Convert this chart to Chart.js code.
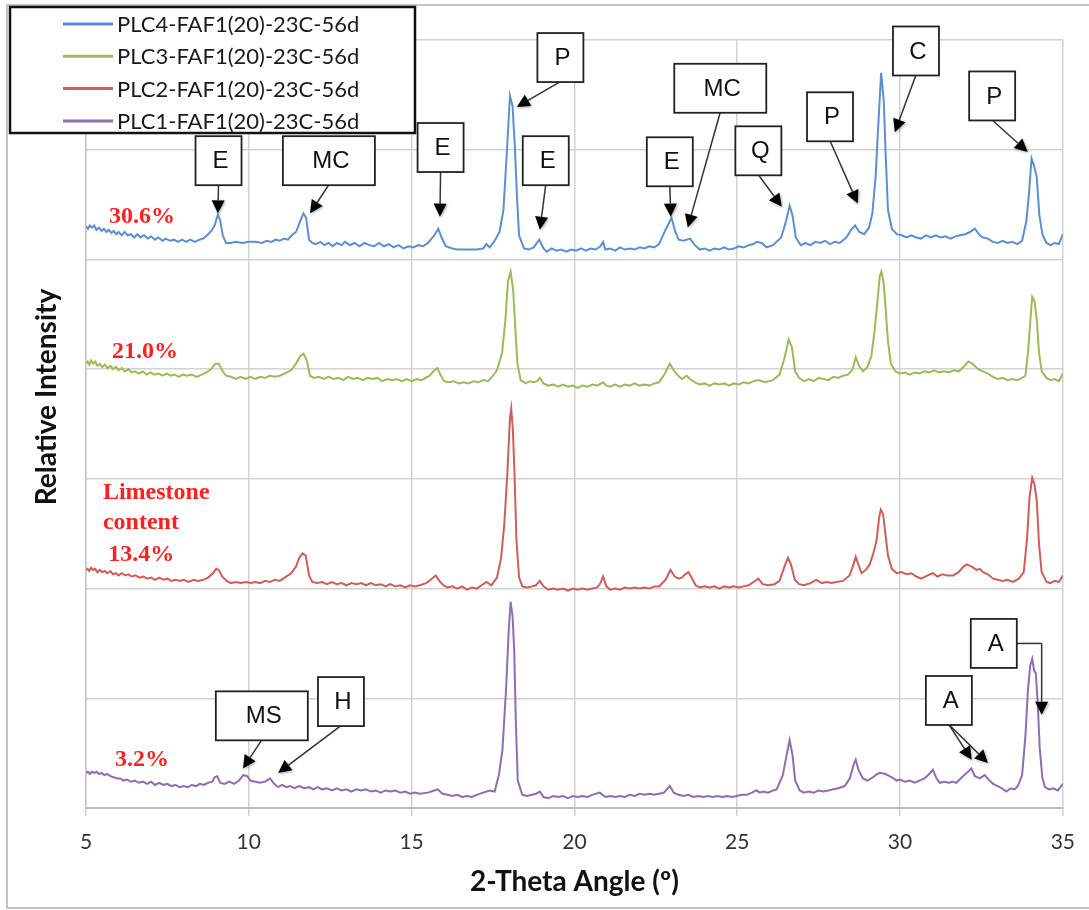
<!DOCTYPE html>
<html>
<head>
<meta charset="utf-8">
<script src="https://cdn.jsdelivr.net/npm/chart.js@4/dist/chart.umd.min.js"></script>
<style>
  html, body { margin: 0; padding: 0; background: #fff; }
</style>
</head>
<body>
<canvas id="xrd" width="1089" height="910"></canvas>
<script>
// x ticks (2-theta, degrees)
const xTicks = [5, 10, 15, 20, 25, 30, 35];

const seriesNames = [
  "PLC4-FAF1(20)-23C-56d",
  "PLC3-FAF1(20)-23C-56d",
  "PLC2-FAF1(20)-23C-56d",
  "PLC1-FAF1(20)-23C-56d",
];

// [2theta, stacked relative intensity]
const plc4 = [
  [5.00,5.30],[5.06,5.28],[5.12,5.31],[5.18,5.29],[5.25,5.31],[5.32,5.27],[5.40,5.29],[5.48,5.26],
  [5.55,5.28],[5.63,5.25],[5.70,5.27],[5.78,5.24],[5.85,5.26],[5.93,5.23],[6.00,5.25],[6.10,5.22],
  [6.18,5.25],[6.28,5.22],[6.38,5.23],[6.48,5.20],[6.58,5.23],[6.68,5.20],[6.78,5.22],[6.90,5.19],
  [7.00,5.21],[7.12,5.18],[7.22,5.20],[7.35,5.17],[7.45,5.19],[7.58,5.17],[7.70,5.18],[7.82,5.16],
  [7.95,5.18],[8.08,5.16],[8.20,5.18],[8.35,5.16],[8.48,5.18],[8.60,5.19],[8.72,5.22],[8.85,5.26],
  [8.95,5.31],[9.05,5.41],[9.12,5.36],[9.20,5.22],[9.30,5.15],[9.45,5.15],[9.60,5.16],[9.80,5.15],
  [10.00,5.16],[10.20,5.16],[10.40,5.15],[10.55,5.17],[10.70,5.16],[10.82,5.18],[10.95,5.17],[11.08,5.19],
  [11.20,5.18],[11.32,5.22],[11.45,5.25],[11.58,5.35],[11.68,5.42],[11.76,5.38],[11.85,5.18],[11.95,5.15],
  [12.05,5.14],[12.20,5.16],[12.32,5.13],[12.45,5.15],[12.58,5.12],[12.70,5.15],[12.85,5.13],[12.95,5.16],
  [13.10,5.13],[13.25,5.15],[13.40,5.12],[13.55,5.15],[13.70,5.13],[13.85,5.12],[14.00,5.15],[14.15,5.12],
  [14.30,5.14],[14.45,5.11],[14.60,5.13],[14.75,5.10],[14.90,5.12],[15.05,5.11],[15.20,5.13],[15.35,5.12],
  [15.50,5.15],[15.70,5.22],[15.82,5.28],[15.92,5.20],[16.05,5.12],[16.25,5.10],[16.40,5.09],[16.60,5.09],
  [16.80,5.09],[17.00,5.09],[17.20,5.10],[17.30,5.14],[17.40,5.11],[17.55,5.17],[17.70,5.25],[17.82,5.45],
  [17.92,5.95],[18.02,6.49],[18.10,6.40],[18.17,6.03],[18.24,5.55],[18.30,5.22],[18.45,5.10],[18.60,5.09],
  [18.75,5.11],[18.92,5.18],[19.05,5.10],[19.15,5.07],[19.30,5.10],[19.45,5.08],[19.60,5.09],[19.75,5.07],
  [19.90,5.09],[20.05,5.08],[20.20,5.10],[20.35,5.08],[20.50,5.10],[20.65,5.09],[20.80,5.12],[20.88,5.16],
  [20.95,5.09],[21.10,5.10],[21.25,5.08],[21.40,5.11],[21.55,5.09],[21.70,5.10],[21.85,5.09],[22.00,5.11],
  [22.15,5.10],[22.30,5.12],[22.45,5.11],[22.60,5.14],[22.75,5.24],[22.85,5.30],[22.98,5.38],[23.10,5.25],
  [23.20,5.18],[23.35,5.17],[23.55,5.19],[23.70,5.13],[23.85,5.09],[24.00,5.10],[24.15,5.08],[24.30,5.10],
  [24.45,5.09],[24.60,5.11],[24.75,5.09],[24.90,5.10],[25.05,5.12],[25.20,5.11],[25.35,5.13],[25.50,5.14],
  [25.60,5.16],[25.75,5.15],[25.90,5.11],[26.10,5.13],[26.35,5.20],[26.50,5.35],[26.61,5.49],[26.70,5.40],
  [26.80,5.20],[26.95,5.13],[27.10,5.15],[27.25,5.13],[27.40,5.16],[27.55,5.15],[27.70,5.17],[27.85,5.14],
  [28.00,5.16],[28.15,5.15],[28.35,5.20],[28.50,5.27],[28.62,5.31],[28.75,5.25],[28.90,5.23],[29.05,5.29],
  [29.15,5.42],[29.25,5.75],[29.33,6.21],[29.42,6.70],[29.50,6.45],[29.56,5.95],[29.63,5.45],[29.75,5.28],
  [29.90,5.23],[30.05,5.22],[30.20,5.20],[30.35,5.22],[30.50,5.20],[30.65,5.19],[30.80,5.22],[30.95,5.20],
  [31.10,5.22],[31.25,5.20],[31.40,5.21],[31.55,5.19],[31.70,5.21],[31.85,5.22],[32.00,5.23],[32.15,5.25],
  [32.30,5.28],[32.45,5.22],[32.55,5.20],[32.70,5.19],[32.85,5.16],[33.00,5.15],[33.15,5.17],[33.30,5.15],
  [33.45,5.16],[33.60,5.14],[33.75,5.17],[33.88,5.35],[33.96,5.60],[34.04,5.92],[34.12,5.85],[34.20,5.75],
  [34.28,5.40],[34.38,5.22],[34.50,5.15],[34.62,5.13],[34.75,5.15],[34.88,5.14],[35.00,5.23],
];

const plc3 = [
  [5.00,4.05],[5.05,4.07],[5.10,4.04],[5.16,4.08],[5.22,4.05],[5.28,4.07],[5.35,4.03],[5.42,4.05],
  [5.50,4.02],[5.58,4.04],[5.66,4.01],[5.75,4.03],[5.83,4.00],[5.92,4.02],[6.00,3.99],[6.10,4.01],
  [6.20,3.98],[6.30,4.00],[6.40,3.97],[6.50,3.98],[6.62,3.96],[6.74,3.98],[6.86,3.95],[6.98,3.97],
  [7.10,3.95],[7.22,3.96],[7.35,3.94],[7.48,3.96],[7.60,3.94],[7.72,3.95],[7.85,3.93],[7.98,3.95],
  [8.10,3.94],[8.25,3.95],[8.40,3.93],[8.55,3.95],[8.70,3.97],[8.85,4.00],[8.97,4.05],[9.08,4.05],
  [9.18,3.99],[9.30,3.94],[9.45,3.93],[9.60,3.91],[9.75,3.93],[9.90,3.91],[10.05,3.93],[10.20,3.91],
  [10.35,3.93],[10.50,3.92],[10.65,3.94],[10.80,3.93],[10.95,3.94],[11.10,3.96],[11.30,3.99],[11.45,4.05],
  [11.58,4.12],[11.68,4.14],[11.78,4.08],[11.88,3.94],[12.00,3.92],[12.15,3.93],[12.30,3.91],[12.45,3.93],
  [12.60,3.91],[12.75,3.92],[12.90,3.90],[13.05,3.93],[13.20,3.91],[13.35,3.92],[13.50,3.90],[13.65,3.92],
  [13.80,3.91],[13.95,3.92],[14.10,3.89],[14.25,3.91],[14.40,3.90],[14.55,3.91],[14.70,3.89],[14.85,3.91],
  [15.00,3.89],[15.15,3.91],[15.30,3.90],[15.55,3.94],[15.70,3.99],[15.79,4.01],[15.88,3.95],[16.00,3.89],
  [16.15,3.88],[16.30,3.89],[16.45,3.87],[16.60,3.88],[16.75,3.87],[16.90,3.89],[17.05,3.88],[17.20,3.90],
  [17.35,3.89],[17.50,3.94],[17.62,3.99],[17.78,4.15],[17.88,4.45],[17.96,4.80],[18.04,4.89],[18.12,4.72],
  [18.18,4.40],[18.25,4.05],[18.35,3.90],[18.50,3.87],[18.62,3.89],[18.75,3.88],[18.85,3.89],[18.94,3.92],
  [19.05,3.87],[19.20,3.85],[19.35,3.86],[19.50,3.84],[19.65,3.86],[19.80,3.84],[19.95,3.85],[20.10,3.83],
  [20.25,3.85],[20.40,3.84],[20.55,3.86],[20.70,3.85],[20.88,3.88],[20.98,3.85],[21.10,3.84],[21.25,3.86],
  [21.40,3.84],[21.55,3.86],[21.70,3.85],[21.85,3.87],[22.00,3.85],[22.15,3.86],[22.30,3.85],[22.45,3.87],
  [22.60,3.88],[22.78,3.96],[22.93,4.05],[23.05,3.99],[23.15,3.95],[23.30,3.91],[23.45,3.94],[23.55,3.91],
  [23.70,3.88],[23.85,3.86],[24.00,3.87],[24.15,3.85],[24.30,3.87],[24.45,3.86],[24.60,3.87],[24.75,3.85],
  [24.90,3.87],[25.05,3.86],[25.20,3.88],[25.35,3.87],[25.50,3.89],[25.65,3.90],[25.85,3.88],[26.10,3.90],
  [26.30,3.95],[26.45,4.10],[26.58,4.27],[26.68,4.20],[26.78,3.98],[26.90,3.92],[27.05,3.89],[27.20,3.91],
  [27.35,3.89],[27.50,3.92],[27.65,3.91],[27.80,3.90],[27.95,3.93],[28.10,3.92],[28.25,3.94],[28.40,3.95],
  [28.55,4.00],[28.64,4.11],[28.74,4.03],[28.86,3.98],[29.00,4.02],[29.12,4.12],[29.22,4.35],[29.30,4.60],
  [29.38,4.85],[29.43,4.89],[29.50,4.78],[29.56,4.55],[29.63,4.25],[29.72,4.05],[29.85,3.98],[30.00,3.96],
  [30.15,3.97],[30.30,3.95],[30.45,3.97],[30.60,3.96],[30.75,3.98],[30.90,3.97],[31.05,3.99],[31.20,3.97],
  [31.35,3.98],[31.50,3.97],[31.65,3.99],[31.80,3.98],[31.95,4.02],[32.10,4.07],[32.22,4.05],[32.40,4.00],
  [32.55,3.98],[32.70,3.96],[32.85,3.93],[33.00,3.91],[33.15,3.92],[33.30,3.90],[33.45,3.91],[33.60,3.90],
  [33.75,3.92],[33.85,3.94],[33.93,4.15],[33.99,4.39],[34.06,4.66],[34.13,4.62],[34.20,4.45],[34.27,4.15],
  [34.35,3.98],[34.50,3.92],[34.62,3.90],[34.75,3.91],[34.88,3.89],[35.00,3.96],
];

const plc2 = [
  [5.00,2.17],[5.05,2.18],[5.10,2.16],[5.16,2.19],[5.22,2.17],[5.28,2.18],[5.35,2.15],[5.42,2.17],
  [5.50,2.15],[5.58,2.16],[5.66,2.14],[5.75,2.16],[5.83,2.13],[5.92,2.14],[6.00,2.12],[6.10,2.14],
  [6.20,2.12],[6.30,2.13],[6.40,2.11],[6.52,2.12],[6.64,2.10],[6.76,2.11],[6.88,2.09],[7.00,2.10],
  [7.12,2.08],[7.25,2.10],[7.38,2.08],[7.50,2.09],[7.62,2.07],[7.75,2.08],[7.88,2.07],[8.00,2.08],
  [8.15,2.06],[8.30,2.08],[8.45,2.07],[8.60,2.08],[8.75,2.10],[8.90,2.14],[9.00,2.18],[9.08,2.17],
  [9.18,2.11],[9.32,2.07],[9.45,2.05],[9.60,2.06],[9.75,2.05],[9.90,2.06],[10.05,2.05],[10.20,2.06],
  [10.35,2.05],[10.50,2.07],[10.65,2.06],[10.80,2.08],[10.95,2.07],[11.10,2.10],[11.30,2.14],[11.45,2.20],
  [11.55,2.28],[11.65,2.32],[11.75,2.30],[11.85,2.12],[11.95,2.06],[12.10,2.05],[12.25,2.06],[12.40,2.04],
  [12.55,2.06],[12.70,2.04],[12.85,2.05],[13.00,2.03],[13.15,2.05],[13.30,2.04],[13.45,2.05],[13.60,2.03],
  [13.75,2.05],[13.90,2.03],[14.05,2.04],[14.20,2.02],[14.35,2.04],[14.50,2.02],[14.65,2.03],[14.80,2.01],
  [14.95,2.03],[15.10,2.02],[15.25,2.03],[15.45,2.05],[15.62,2.09],[15.74,2.12],[15.85,2.07],[15.98,2.03],
  [16.10,2.01],[16.25,2.02],[16.40,2.00],[16.55,2.02],[16.70,1.99],[16.85,2.01],[17.00,2.00],[17.15,2.03],
  [17.30,2.06],[17.45,2.03],[17.62,2.10],[17.75,2.28],[17.85,2.60],[17.94,3.05],[18.02,3.55],[18.06,3.64],
  [18.11,3.45],[18.16,3.05],[18.22,2.44],[18.30,2.10],[18.40,2.02],[18.55,2.01],[18.70,2.02],[18.82,2.03],
  [18.94,2.07],[19.05,2.02],[19.20,1.99],[19.35,2.00],[19.50,1.99],[19.65,2.00],[19.80,1.98],[19.95,2.00],
  [20.10,1.99],[20.25,2.00],[20.40,1.99],[20.55,2.00],[20.70,2.01],[20.80,2.05],[20.88,2.11],[20.98,2.02],
  [21.10,1.99],[21.25,2.00],[21.40,1.99],[21.55,2.01],[21.70,2.00],[21.85,2.01],[22.00,2.00],[22.15,2.01],
  [22.30,2.00],[22.45,2.02],[22.60,2.02],[22.80,2.08],[22.95,2.17],[23.08,2.11],[23.20,2.09],[23.30,2.10],
  [23.40,2.13],[23.50,2.15],[23.60,2.10],[23.72,2.03],[23.85,2.01],[24.00,2.02],[24.15,2.01],[24.30,2.02],
  [24.45,2.00],[24.60,2.02],[24.75,2.01],[24.90,2.02],[25.05,2.01],[25.20,2.02],[25.35,2.03],[25.50,2.06],
  [25.65,2.09],[25.78,2.04],[25.95,2.03],[26.15,2.04],[26.30,2.07],[26.45,2.20],[26.56,2.28],[26.65,2.22],
  [26.77,2.08],[26.90,2.04],[27.05,2.03],[27.25,2.05],[27.43,2.08],[27.60,2.05],[27.75,2.06],[27.90,2.05],
  [28.05,2.06],[28.25,2.07],[28.45,2.12],[28.55,2.20],[28.64,2.29],[28.72,2.22],[28.82,2.14],[28.95,2.17],
  [29.07,2.22],[29.18,2.32],[29.28,2.44],[29.36,2.65],[29.41,2.72],[29.48,2.68],[29.55,2.50],[29.63,2.30],
  [29.75,2.18],[29.90,2.14],[30.05,2.15],[30.20,2.13],[30.35,2.14],[30.50,2.11],[30.65,2.09],[30.85,2.12],
  [31.01,2.14],[31.15,2.11],[31.30,2.13],[31.45,2.12],[31.63,2.12],[31.80,2.15],[31.95,2.20],[32.05,2.22],
  [32.20,2.20],[32.35,2.17],[32.45,2.18],[32.55,2.15],[32.70,2.13],[32.86,2.09],[33.00,2.08],[33.15,2.07],
  [33.30,2.08],[33.47,2.06],[33.65,2.09],[33.80,2.15],[33.90,2.45],[33.98,2.84],[34.06,3.01],[34.13,2.95],
  [34.20,2.80],[34.27,2.40],[34.35,2.15],[34.50,2.06],[34.62,2.05],[34.75,2.07],[34.88,2.06],[35.00,2.12],
];

const plc1 = [
  [5.00,0.32],[5.06,0.33],[5.12,0.31],[5.18,0.33],[5.25,0.32],[5.32,0.33],[5.40,0.31],[5.48,0.32],
  [5.56,0.30],[5.65,0.31],[5.75,0.29],[5.85,0.28],[5.95,0.27],[6.05,0.27],[6.15,0.25],[6.25,0.26],
  [6.38,0.24],[6.50,0.25],[6.62,0.23],[6.75,0.24],[6.88,0.22],[7.00,0.24],[7.12,0.21],[7.25,0.23],
  [7.38,0.21],[7.50,0.22],[7.62,0.20],[7.75,0.21],[7.88,0.19],[8.00,0.20],[8.12,0.19],[8.25,0.21],
  [8.38,0.20],[8.50,0.22],[8.62,0.21],[8.75,0.23],[8.88,0.24],[8.95,0.28],[9.03,0.29],[9.12,0.23],
  [9.25,0.22],[9.40,0.24],[9.55,0.22],[9.70,0.25],[9.83,0.30],[9.95,0.29],[10.05,0.25],[10.20,0.24],
  [10.34,0.23],[10.50,0.24],[10.65,0.27],[10.78,0.22],[10.90,0.19],[11.02,0.21],[11.15,0.19],[11.28,0.20],
  [11.40,0.18],[11.55,0.20],[11.70,0.18],[11.85,0.19],[11.98,0.17],[12.12,0.19],[12.25,0.17],[12.40,0.18],
  [12.55,0.16],[12.70,0.18],[12.85,0.16],[13.00,0.17],[13.15,0.15],[13.30,0.17],[13.45,0.16],[13.60,0.17],
  [13.75,0.15],[13.90,0.16],[14.05,0.14],[14.20,0.16],[14.35,0.15],[14.50,0.16],[14.65,0.14],[14.80,0.15],
  [14.95,0.13],[15.10,0.14],[15.25,0.13],[15.50,0.14],[15.70,0.16],[15.80,0.17],[15.95,0.13],[16.10,0.12],
  [16.25,0.11],[16.40,0.12],[16.55,0.10],[16.70,0.11],[16.85,0.10],[17.00,0.12],[17.20,0.14],[17.40,0.16],
  [17.55,0.15],[17.68,0.30],[17.79,0.53],[17.90,1.08],[17.98,1.60],[18.04,1.88],[18.10,1.75],[18.15,1.45],
  [18.20,0.80],[18.26,0.25],[18.40,0.12],[18.55,0.11],[18.70,0.12],[18.82,0.13],[18.94,0.15],[19.05,0.10],
  [19.20,0.09],[19.35,0.11],[19.50,0.10],[19.65,0.11],[19.80,0.09],[19.95,0.11],[20.10,0.10],[20.25,0.11],
  [20.40,0.10],[20.55,0.12],[20.78,0.14],[20.95,0.10],[21.10,0.11],[21.25,0.10],[21.40,0.11],[21.55,0.10],
  [21.70,0.12],[21.85,0.11],[22.00,0.13],[22.15,0.12],[22.30,0.13],[22.45,0.12],[22.60,0.13],[22.75,0.14],
  [22.93,0.20],[23.05,0.14],[23.20,0.12],[23.35,0.11],[23.50,0.12],[23.65,0.10],[23.80,0.11],[23.95,0.10],
  [24.10,0.11],[24.25,0.10],[24.40,0.11],[24.55,0.10],[24.70,0.11],[24.85,0.10],[24.98,0.11],[25.15,0.12],
  [25.30,0.12],[25.45,0.14],[25.59,0.16],[25.70,0.14],[25.80,0.15],[25.95,0.14],[26.10,0.16],[26.21,0.17],
  [26.40,0.30],[26.51,0.47],[26.61,0.62],[26.70,0.48],[26.78,0.25],[26.92,0.16],[27.05,0.14],[27.20,0.15],
  [27.35,0.14],[27.50,0.16],[27.65,0.15],[27.80,0.16],[27.95,0.17],[28.10,0.18],[28.30,0.20],[28.46,0.27],
  [28.58,0.40],[28.64,0.44],[28.72,0.35],[28.86,0.27],[29.00,0.25],[29.17,0.28],[29.30,0.31],[29.40,0.32],
  [29.55,0.31],[29.68,0.29],[29.80,0.27],[29.89,0.25],[30.00,0.26],[30.15,0.24],[30.30,0.25],[30.45,0.23],
  [30.60,0.25],[30.75,0.27],[30.90,0.31],[31.01,0.35],[31.12,0.27],[31.22,0.23],[31.35,0.24],[31.50,0.23],
  [31.62,0.24],[31.73,0.23],[31.90,0.28],[32.05,0.32],[32.19,0.36],[32.30,0.29],[32.45,0.27],[32.60,0.30],
  [32.75,0.25],[32.86,0.22],[33.00,0.20],[33.12,0.18],[33.27,0.15],[33.40,0.18],[33.52,0.17],[33.62,0.20],
  [33.75,0.30],[33.85,0.65],[33.93,1.08],[34.00,1.30],[34.06,1.36],[34.12,1.25],[34.17,1.23],[34.23,0.95],
  [34.29,0.55],[34.37,0.28],[34.45,0.19],[34.58,0.17],[34.70,0.18],[34.85,0.16],[35.00,0.22],
];

// limestone content labels (left edge x, centre y, data units)
const notes = [
  ["30.6%", 5.71, 5.39],
  ["21.0%", 5.80, 4.16],
  ["Limestone", 5.52, 2.87],
  ["content", 5.52, 2.60],
  ["13.4%", 5.68, 2.31],
  ["3.2%", 5.89, 0.44],
];

// phase callouts: label, box centre, arrow tips
const callouts = [
  ["E", 9.07, 5.90, [[9.05, 5.42]]],
  ["MC", 12.46, 5.90, [[11.88, 5.42]]],
  ["E", 15.89, 6.02, [[15.87, 5.39]]],
  ["P", 19.57, 6.84, [[18.23, 6.39]]],
  ["E", 19.12, 5.90, [[18.94, 5.27]]],
  ["E", 22.93, 5.89, [[22.96, 5.39]]],
  ["MC", 24.48, 6.56, [[23.48, 5.29]]],
  ["Q", 25.65, 5.99, [[26.37, 5.48]]],
  ["P", 27.85, 6.30, [[28.70, 5.51]]],
  ["C", 30.49, 6.90, [[29.84, 6.16]]],
  ["P", 32.83, 6.49, [[33.92, 5.98]]],
  ["MS", 10.40, 0.84, [[9.82, 0.36]]],
  ["H", 12.83, 0.97, [[10.90, 0.32]]],
  ["A", 31.50, 0.98, [[32.20, 0.44], [32.70, 0.41]]],
];
// elbow connector callout
const elbowCallout = ["A", 32.88, 1.50, [34.35, 0.85]];

const colors = ["#5a8fd2", "#9bbb59", "#cf5e5b", "#8a6fb3"];
const UI_FONT = "Lato, 'Open Sans', sans-serif";

function drawArrow(ctx, x1, y1, x2, y2) {
  const ang = Math.atan2(y2 - y1, x2 - x1);
  const len = 13, half = 6.5;
  const bx = x2 - len * Math.cos(ang), by = y2 - len * Math.sin(ang);
  ctx.strokeStyle = "#333";
  ctx.lineWidth = 1.5;
  ctx.beginPath();
  ctx.moveTo(x1, y1);
  ctx.lineTo(bx, by);
  ctx.stroke();
  ctx.save();
  ctx.shadowColor = "rgba(0,0,0,0.35)";
  ctx.shadowBlur = 3;
  ctx.shadowOffsetX = 1;
  ctx.shadowOffsetY = 1;
  ctx.fillStyle = "#000";
  ctx.beginPath();
  ctx.moveTo(x2, y2);
  ctx.lineTo(bx + half * Math.sin(ang), by - half * Math.cos(ang));
  ctx.lineTo(bx - half * Math.sin(ang), by + half * Math.cos(ang));
  ctx.closePath();
  ctx.fill();
  ctx.restore();
}

function drawBox(ctx, label, cx, cy) {
  const w = label.length > 1 ? 92 : 46, h = 49;
  ctx.fillStyle = "#fff";
  ctx.fillRect(cx - w / 2, cy - h / 2, w, h);
  ctx.strokeStyle = "#222";
  ctx.lineWidth = 1.8;
  ctx.strokeRect(cx - w / 2, cy - h / 2, w, h);
  ctx.fillStyle = "#111";
  ctx.font = "24px 'Liberation Sans', Arial, sans-serif";
  ctx.textAlign = "center";
  ctx.textBaseline = "middle";
  ctx.fillText(label, cx + 2, cy + 1);
}

const overlay = {
  id: "overlay",
  afterDraw(chart) {
    const { ctx, scales: { x, y } } = chart;
    ctx.save();

    // outer chart frame
    ctx.strokeStyle = "#c4c4c4";
    ctx.lineWidth = 2;
    ctx.strokeRect(7, 5, 1100, 903);

    // limestone labels
    ctx.fillStyle = "#ff1f1f";
    ctx.font = "bold 24px 'Liberation Serif', 'Times New Roman', serif";
    ctx.textAlign = "left";
    ctx.textBaseline = "middle";
    notes.forEach(([t, nx, ny]) => ctx.fillText(t, x.getPixelForValue(nx), y.getPixelForValue(ny)));

    // callouts
    callouts.forEach(([label, bx, by, tips]) => {
      const cx = x.getPixelForValue(bx), cy = y.getPixelForValue(by);
      tips.forEach(([tx, ty]) => drawArrow(ctx, cx, cy + 24, x.getPixelForValue(tx), y.getPixelForValue(ty)));
      drawBox(ctx, label, cx, cy);
    });
    {
      const [label, bx, by, [tx, ty]] = elbowCallout;
      const cx = x.getPixelForValue(bx), cy = y.getPixelForValue(by);
      const px = x.getPixelForValue(tx), py = y.getPixelForValue(ty);
      ctx.strokeStyle = "#333";
      ctx.lineWidth = 1.5;
      ctx.beginPath();
      ctx.moveTo(cx + 23, cy);
      ctx.lineTo(px, cy);
      ctx.stroke();
      drawArrow(ctx, px, cy, px, py);
      drawBox(ctx, label, cx, cy);
    }

    // legend
    ctx.fillStyle = "#fff";
    ctx.fillRect(10, 7, 405, 126);
    ctx.strokeStyle = "#111";
    ctx.lineWidth = 2.5;
    ctx.strokeRect(10, 7, 405, 126);
    ctx.font = "22px " + UI_FONT;
    ctx.textAlign = "left";
    ctx.textBaseline = "middle";
    chart.data.datasets.forEach((ds, i) => {
      const ly = 24 + i * 32.3;
      ctx.strokeStyle = ds.borderColor;
      ctx.lineWidth = 3;
      ctx.beginPath();
      ctx.moveTo(63, ly);
      ctx.lineTo(113, ly);
      ctx.stroke();
      ctx.fillStyle = "#1a1a1a";
      ctx.fillText(ds.label, 117, ly + 1);
    });

    // axis titles
    ctx.fillStyle = "#111";
    ctx.font = "bold 28px " + UI_FONT;
    ctx.textAlign = "center";
    ctx.fillText("2-Theta Angle (\u00BA)", (x.left + x.right) / 2, 882);
    ctx.translate(47, 397);
    ctx.rotate(-Math.PI / 2);
    ctx.fillText("Relative Intensity", 0, 0);

    ctx.restore();
  },
};

const series = [plc4, plc3, plc2, plc1];

new Chart(document.getElementById("xrd"), {
  type: "line",
  data: {
    datasets: series.map((pts, i) => ({
      label: seriesNames[i],
      data: pts.map(([tx, ty]) => ({ x: tx, y: ty })),
      borderColor: colors[i],
      borderWidth: 2,
      pointRadius: 0,
      tension: 0,
      fill: false,
    })),
  },
  options: {
    responsive: false,
    animation: false,
    devicePixelRatio: 1,
    layout: { padding: { left: 10, right: 26, top: 40, bottom: 10 } },
    plugins: { legend: { display: false }, tooltip: { enabled: false } },
    scales: {
      x: {
        type: "linear",
        min: xTicks[0],
        max: xTicks[xTicks.length - 1],
        afterBuildTicks: (scale) => { scale.ticks = xTicks.map((v) => ({ value: v })); },
        afterFit: (scale) => { scale.height = 92; },
        grid: { color: "#d2d2d2", lineWidth: 1.5, tickLength: 8 },
        border: { color: "#bcbcbc", width: 2 },
        ticks: { color: "#333", padding: 14, font: { family: UI_FONT, size: 21 } },
      },
      y: {
        min: 0,
        max: 7,
        afterFit: (scale) => { scale.width = 76; },
        grid: { color: "#d2d2d2", lineWidth: 1.5, drawTicks: false },
        border: { color: "#c8c8c8", width: 1.5 },
        ticks: { display: false, stepSize: 1 },
      },
    },
  },
  plugins: [overlay],
});
</script>
</body>
</html>
